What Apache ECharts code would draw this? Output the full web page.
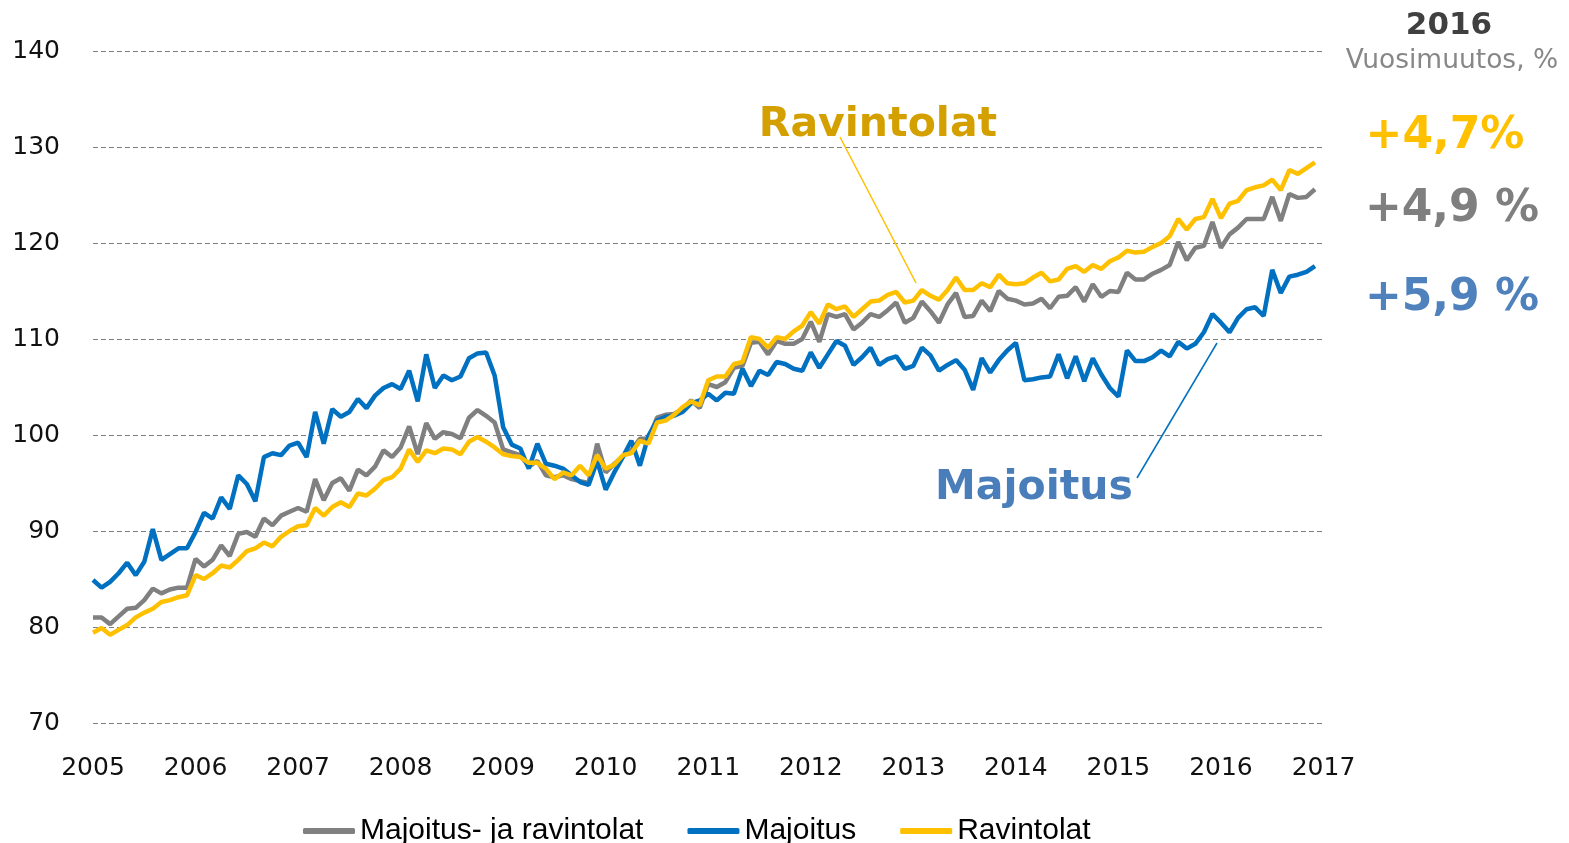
<!DOCTYPE html>
<html>
<head>
<meta charset="utf-8">
<script src="https://cdn.jsdelivr.net/npm/echarts@6/dist/echarts.min.js"></script>
<style>
html,body{margin:0;padding:0;background:#fff;}
#c{width:1569px;height:843px;}
</style>
</head>
<body>
<div id="c"></div>
<script>
// Monthly index values Jan 2005 .. Dec 2016
const startYear = 2005;
const yearTicks = [2005,2006,2007,2008,2009,2010,2011,2012,2013,2014,2015,2016,2017];
const seriesNames = ['Majoitus- ja ravintolat', 'Majoitus', 'Ravintolat'];

const majoitusJaRavintolat = [
  81.0, 81.0, 80.3, 81.1, 81.9, 82.0, 82.8, 84.0, 83.5, 83.9, 84.1, 84.1,
  87.1, 86.3, 87.0, 88.5, 87.4, 89.7, 89.9, 89.4, 91.3, 90.6, 91.6, 92.0,
  92.4, 92.0, 95.4, 93.2, 95.0, 95.5, 94.2, 96.4, 95.8, 96.7, 98.4, 97.7,
  98.7, 100.9, 98.0, 101.25, 99.6, 100.3, 100.1, 99.65, 101.8, 102.6, 102.0, 101.3,
  98.5, 98.2, 97.9, 96.7, 97.3, 95.8, 95.6, 95.8, 95.4, 95.2, 95.0, 99.1,
  96.1, 97.0, 97.8, 98.4, 99.6, 99.6, 101.8, 102.1, 102.2, 102.7, 103.6, 102.8,
  105.3, 105.0, 105.5, 107.0, 107.2, 109.6, 109.7, 108.4, 109.8, 109.5, 109.5, 110.0,
  111.8, 109.7, 112.6, 112.3, 112.6, 111.0, 111.7, 112.6, 112.3, 113.0, 113.8, 111.7,
  112.2, 113.9, 112.9, 111.7, 113.6, 114.8, 112.3, 112.4, 114.0, 112.9, 115.0, 114.2,
  114.0, 113.6, 113.7, 114.2, 113.2, 114.4, 114.5, 115.4, 113.9, 115.7, 114.4, 115.0,
  114.9, 116.9, 116.2, 116.2, 116.8, 117.2, 117.7, 120.1, 118.2, 119.5, 119.7, 122.2,
  119.5, 120.9, 121.6, 122.5, 122.5, 122.5, 124.8, 122.3, 125.1, 124.7, 124.8, 125.6
];

const majoitus = [
  84.9, 84.1, 84.7, 85.6, 86.7, 85.4, 86.8, 90.2, 87.0, 87.6, 88.2, 88.2,
  89.9, 91.9, 91.3, 93.5, 92.3, 95.8, 94.9, 93.1, 97.7, 98.1, 97.9, 98.9,
  99.2, 97.7, 102.4, 99.1, 102.7, 101.9, 102.4, 103.75, 102.8, 104.1, 104.9, 105.3,
  104.8, 106.7, 103.5, 108.4, 104.9, 106.2, 105.7, 106.1, 108.0, 108.5, 108.6, 106.2,
  100.8, 99.0, 98.6, 96.5, 99.1, 97.0, 96.8, 96.5, 95.8, 95.1, 94.8, 97.3,
  94.3, 96.1, 97.7, 99.4, 96.8, 99.9, 101.5, 101.9, 102.0, 102.4, 103.3, 103.6,
  104.3, 103.6, 104.4, 104.3, 106.9, 105.1, 106.7, 106.25, 107.6, 107.4, 106.9, 106.7,
  108.6, 107.0, 108.4, 109.8, 109.3, 107.3, 108.1, 109.1, 107.3, 107.9, 108.2, 106.9,
  107.2, 109.1, 108.3, 106.7, 107.3, 107.8, 106.8, 104.7, 108.0, 106.5, 107.8, 108.8,
  109.6, 105.7, 105.8, 106.0, 106.1, 108.4, 105.9, 108.2, 105.6, 108.0, 106.3, 104.9,
  104.0, 108.8, 107.7, 107.7, 108.1, 108.8, 108.2, 109.7, 109.0, 109.5, 110.7, 112.6,
  111.7, 110.7, 112.2, 113.1, 113.3, 112.4, 117.2, 114.8, 116.5, 116.7, 117.0, 117.6
];

const ravintolat = [
  79.4, 79.9, 79.2, 79.7, 80.2, 81.0, 81.5, 81.9, 82.6, 82.8, 83.1, 83.3,
  85.4, 85.0, 85.6, 86.4, 86.2, 87.0, 87.9, 88.2, 88.8, 88.4, 89.4, 90.0,
  90.5, 90.6, 92.4, 91.6, 92.5, 93.0, 92.5, 93.9, 93.7, 94.4, 95.3, 95.6,
  96.5, 98.5, 97.2, 98.4, 98.1, 98.6, 98.5, 98.0, 99.3, 99.8, 99.3, 98.7,
  98.0, 97.8, 97.7, 97.1, 97.1, 96.5, 95.4, 96.1, 95.8, 96.8, 95.8, 97.9,
  96.5, 96.9, 97.9, 98.1, 99.4, 99.1, 101.3, 101.5, 102.1, 102.9, 103.5, 103.1,
  105.7, 106.1, 106.1, 107.4, 107.6, 110.2, 110.0, 109.1, 110.2, 110.0, 110.8, 111.4,
  112.8, 111.6, 113.6, 113.1, 113.4, 112.3, 113.1, 113.9, 114.0, 114.6, 114.9, 113.8,
  114.0, 115.1, 114.5, 114.1, 115.1, 116.4, 115.1, 115.1, 115.8, 115.4, 116.7, 115.8,
  115.7, 115.8, 116.4, 116.9, 116.0, 116.2, 117.3, 117.6, 117.0, 117.7, 117.3, 118.1,
  118.5, 119.2, 119.0, 119.1, 119.6, 120.0, 120.7, 122.5, 121.4, 122.5, 122.7, 124.6,
  122.6, 124.1, 124.4, 125.5, 125.8, 126.0, 126.6, 125.5, 127.6, 127.2, 127.8, 128.4
];

const changeLabels = ['+4,7%', '+4,9 %', '+5,9 %'];

const colors = ['#808080', '#0070C0', '#FFC000'];
const toPairs = arr => arr.map((v, i) => [i, v]);

const chart = echarts.init(document.getElementById('c'), null, {renderer: 'canvas'});
const axisFont = 'DejaVu Sans, Verdana, sans-serif';

const option = {
  animation: false,
  backgroundColor: '#ffffff',
  color: colors,
  grid: {left: 93, right: 245.5, top: 51, bottom: 120, containLabel: false},
  xAxis: {
    type: 'value', min: 0, max: (yearTicks.length - 1) * 12, interval: 12,
    axisLine: {show: false}, axisTick: {show: false}, splitLine: {show: false},
    axisLabel: {
      fontFamily: axisFont, fontSize: 25, color: '#111', margin: 33,
      formatter: v => String(startYear + v / 12)
    }
  },
  yAxis: {
    type: 'value', min: 70, max: 140, interval: 10,
    axisLine: {show: false}, axisTick: {show: false},
    splitLine: {lineStyle: {color: '#7f7f7f', type: [5, 3], width: 1}},
    axisLabel: {fontFamily: axisFont, fontSize: 25, color: '#111', margin: 33}
  },
  legend: {
    left: 298, top: 811,
    itemWidth: 52, itemHeight: 6, itemGap: 44,
    icon: 'roundRect',
    textStyle: {fontFamily: 'Liberation Sans Narrow, Arial Narrow, sans-serif', fontSize: 30, color: '#000'},
    data: seriesNames
  },
  series: [
    {name: seriesNames[0], type: 'line', data: toPairs(majoitusJaRavintolat), showSymbol: false, lineStyle: {width: 4.5, color: colors[0]}, itemStyle: {color: colors[0]}},
    {name: seriesNames[1], type: 'line', data: toPairs(majoitus), showSymbol: false, lineStyle: {width: 4.5, color: colors[1]}, itemStyle: {color: colors[1]}},
    {name: seriesNames[2], type: 'line', data: toPairs(ravintolat), showSymbol: false, lineStyle: {width: 4.5, color: colors[2]}, itemStyle: {color: colors[2]}}
  ],
  graphic: [
    {type: 'line', shape: {x1: 840, y1: 137, x2: 916, y2: 283}, style: {stroke: '#FFC000', lineWidth: 1.5}, z: 10},
    {type: 'line', shape: {x1: 1137, y1: 478, x2: 1217, y2: 343}, style: {stroke: '#0070C0', lineWidth: 1.5}, z: 10},
    {type: 'text', x: 878, y: 125, style: {text: 'Ravintolat', font: 'bold 41px DejaVu Sans', fill: '#D4A000', textAlign: 'center', textVerticalAlign: 'middle'}, z: 10},
    {type: 'text', x: 1034, y: 488, style: {text: 'Majoitus', font: 'bold 41px DejaVu Sans', fill: '#4A7EBB', textAlign: 'center', textVerticalAlign: 'middle'}, z: 10},
    {type: 'text', x: 1449, y: 26, style: {text: '2016', font: 'bold 31px DejaVu Sans', fill: '#404040', textAlign: 'center', textVerticalAlign: 'middle'}, z: 10},
    {type: 'text', x: 1452, y: 61, style: {text: 'Vuosimuutos, %', font: '26.5px DejaVu Sans', fill: '#878787', textAlign: 'center', textVerticalAlign: 'middle'}, z: 10},
    {type: 'text', x: 1445, y: 137, style: {text: changeLabels[0], font: 'bold 44px DejaVu Sans', fill: '#FFC000', textAlign: 'center', textVerticalAlign: 'middle'}, z: 10},
    {type: 'text', x: 1452, y: 210, style: {text: changeLabels[1], font: 'bold 44px DejaVu Sans', fill: '#7F7F7F', textAlign: 'center', textVerticalAlign: 'middle'}, z: 10},
    {type: 'text', x: 1452, y: 299, style: {text: changeLabels[2], font: 'bold 44px DejaVu Sans', fill: '#4F81BD', textAlign: 'center', textVerticalAlign: 'middle'}, z: 10}
  ]
};
chart.setOption(option);
</script>
</body>
</html>
